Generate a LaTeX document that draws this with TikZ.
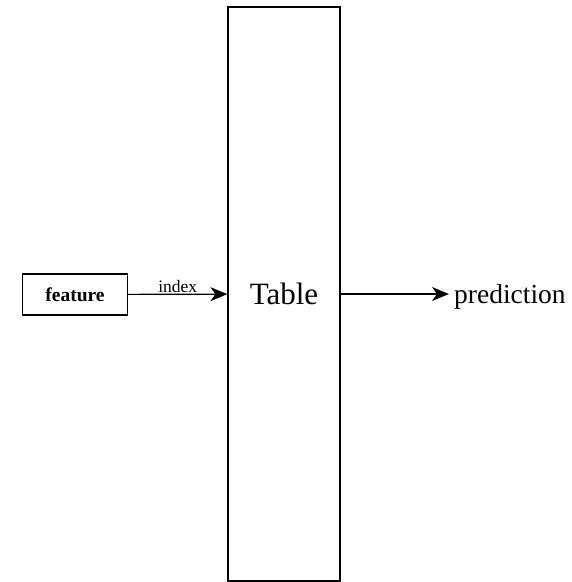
\documentclass[tikz,border=0pt]{standalone}
\usepackage{fontspec}
\setmainfont{Liberation Serif}
\usepackage{tikz}
\usetikzlibrary{positioning,arrows.meta}

\begin{document}
\begin{tikzpicture}[
  x=1pt, y=-1pt,
  box/.style={draw, line width=1.2pt, rectangle, inner sep=0pt},
  arr/.style={draw, line width=1.2pt,
    -{Stealth[length=17pt, width=14pt, inset=5pt]}},
  lbl/.style={font=\fontsize{17.5}{20}\selectfont}
]
\useasboundingbox (0,0) rectangle (572,582);

% Lookup table
\node[box, minimum width=112pt, minimum height=574pt,
  font=\fontsize{31}{34}\selectfont] (table) at (284,294) {Table};

% Input feature
\node[box, minimum width=105pt, minimum height=41pt,
  font=\bfseries\fontsize{19.5}{22}\selectfont] (feat) at (75,294.5) {feature};

% Output
\node[inner sep=0pt, inner xsep=5pt, anchor=west, text depth=0pt,
  font=\fontsize{27.5}{30}\selectfont] (pred) at (449,294) {prediction};

% Edges
\draw[arr] (feat) -- node[above, lbl, inner sep=0.5pt] (idx) {index} (table);
\draw[arr] (table) -- (pred);
\end{tikzpicture}
\end{document}
